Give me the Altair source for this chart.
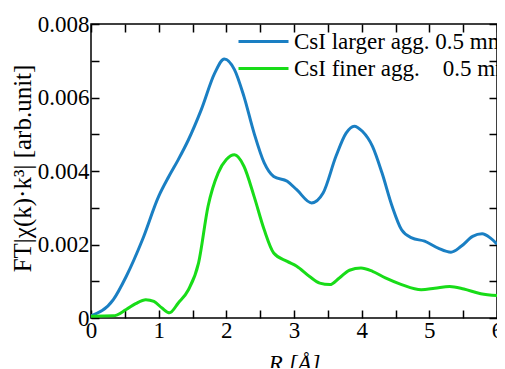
import altair as alt
import pandas as pd

r_large = [0.0, 0.33, 0.52, 0.76, 1.0, 1.15, 1.29, 1.44, 1.63, 1.83, 1.97, 2.12, 2.26, 2.41, 2.56, 2.70,
           2.90, 3.04, 3.26, 3.43, 3.62, 3.77, 3.89, 4.01, 4.16, 4.30, 4.45, 4.59, 4.74, 4.93, 5.13,
           5.32, 5.47, 5.64, 5.78, 5.90, 6.0]
ft_large = [0.00006, 0.0005, 0.00113, 0.00213, 0.00331, 0.00385, 0.00431, 0.00485, 0.00567, 0.00667,
            0.00705, 0.00676, 0.00603, 0.00503, 0.00422, 0.00385, 0.00372, 0.00349, 0.00313, 0.0034,
            0.0044, 0.00503, 0.00522, 0.00508, 0.00467, 0.00395, 0.00304, 0.0024, 0.00218, 0.00209,
            0.0019, 0.00179, 0.00195, 0.00222, 0.00229, 0.00218, 0.00201]

r_fine = [0.0, 0.33, 0.52, 0.66, 0.81, 0.93, 1.05, 1.16, 1.29, 1.44, 1.59, 1.73, 1.88, 2.0, 2.12, 2.26,
          2.41, 2.56, 2.70, 2.90, 3.04, 3.23, 3.38, 3.53, 3.67, 3.82, 3.99, 4.16, 4.35, 4.59, 4.88,
          5.08, 5.30, 5.51, 5.76, 6.0]
ft_fine = [0.00005, 0.00006, 0.00023, 0.00039, 0.0005, 0.00045, 0.00027, 0.00014, 0.00041, 0.00077,
           0.0015, 0.00304, 0.00395, 0.00431, 0.00444, 0.00413, 0.00331, 0.0024, 0.00177, 0.00154,
           0.00141, 0.00113, 0.00095, 0.00091, 0.00109, 0.0013, 0.00136, 0.00127, 0.00109, 0.00091,
           0.00077, 0.00081, 0.00086, 0.00079, 0.00066, 0.00061]

series_names = ["CsI larger agg. 0.5 mm", "CsI finer agg.\u00a0\u00a0\u00a0 0.5 mm"]
series_colors = ["#1a7fc3", "#18dc18"]

x_ticks = [0, 0.5, 1, 1.5, 2, 2.5, 3, 3.5, 4, 4.5, 5, 5.5, 6]
y_ticks = [0, 0.001, 0.002, 0.003, 0.004, 0.005, 0.006, 0.007, 0.008]

df = pd.concat([
    pd.DataFrame({"R": r_large, "FT": ft_large, "series": series_names[0], "order": 0}),
    pd.DataFrame({"R": r_fine, "FT": ft_fine, "series": series_names[1], "order": 1}),
])

FONT = "Liberation Serif"

xscale = alt.Scale(domain=[0, 6], nice=False, zero=False)
yscale = alt.Scale(domain=[0, 0.008], nice=False, zero=False)

x_label_expr = "(round(datum.value*2) % 2 == 0) ? format(datum.value, 'd') : ''"
y_label_expr = "(round(datum.value*1000) % 2 == 0) ? (datum.value == 0 ? '0' : format(datum.value, '.3f')) : ''"

main = alt.Chart(df).mark_line(strokeWidth=3, interpolate="monotone", clip=True).encode(
    x=alt.X("R:Q", scale=xscale,
            axis=alt.Axis(values=x_ticks, labelExpr=x_label_expr, title="R [Å]", orient="bottom",
                          offset=-8, tickSize=8, domain=False, grid=False, labelPadding=1,
                          titlePadding=10, labelFlush=False,
                          labelFont=FONT, labelFontSize=23, titleFont=FONT, titleFontSize=23,
                          titleFontStyle="italic")),
    y=alt.Y("FT:Q", scale=yscale,
            axis=alt.Axis(values=y_ticks, labelExpr=y_label_expr, title="FT|χ(k)·k³| [arb.unit]",
                          orient="left", offset=-8, tickSize=8, domain=False, grid=False,
                          labelPadding=2, titleX=-64, titleY=144, labelFlush=False,
                          labelFont=FONT, labelFontSize=23, titleFont=FONT, titleFontSize=25)),
    color=alt.Color("series:N", sort=series_names,
                    scale=alt.Scale(domain=series_names, range=series_colors),
                    legend=alt.Legend(title=None, orient="none", legendX=161, legendY=6,
                                      symbolType="M-5,0L5,0", symbolSize=100, symbolStrokeWidth=3,
                                      labelFont=FONT, labelFontSize=23, labelColor="black",
                                      labelLimit=400, rowPadding=3, padding=0, labelOffset=19)),
    order="order:Q",
)

frame_axes = alt.Chart(df).mark_line(opacity=0).encode(
    x=alt.X("R:Q", scale=xscale,
            axis=alt.Axis(values=x_ticks, labels=False, title=None, orient="top", offset=-8,
                          tickSize=8, domain=False, grid=False)),
    y=alt.Y("FT:Q", scale=yscale,
            axis=alt.Axis(values=y_ticks, labels=False, title=None, orient="right", offset=-8,
                          tickSize=8, domain=False, grid=False)),
    detail="series:N",
)

chart = alt.layer(main, frame_axes).resolve_axis(x="independent", y="independent").properties(
    width=406, height=294,
    autosize=alt.AutoSizeParams(type="none"),
    padding={"left": 83, "top": 16, "right": 0, "bottom": 50},
).configure_view(stroke="black", strokeWidth=1.5).configure_axis(
    labelFont=FONT, labelColor="black", tickColor="black", tickWidth=1.5,
    titleFont=FONT, titleColor="black", titleFontWeight="normal",
)

chart.save("out.html", embed_options={"renderer": "svg", "actions": False})
